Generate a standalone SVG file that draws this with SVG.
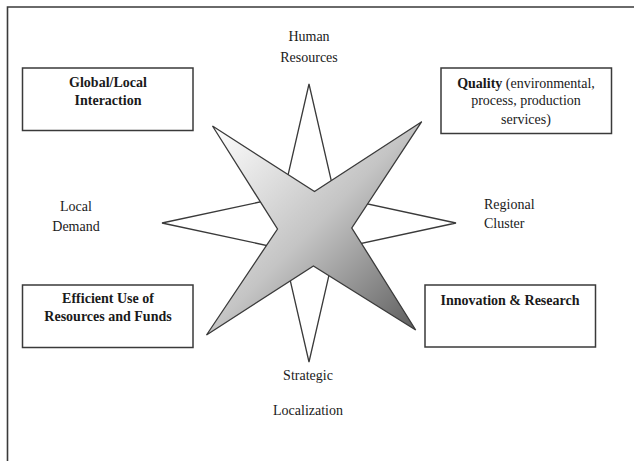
<svg xmlns="http://www.w3.org/2000/svg" width="634" height="461" viewBox="0 0 634 461">
<defs>
<linearGradient id="xg" gradientUnits="userSpaceOnUse" x1="212" y1="126" x2="416" y2="330">
<stop offset="0" stop-color="#ffffff"/>
<stop offset="0.5" stop-color="#c4c4c4"/>
<stop offset="1" stop-color="#5e5e5e"/>
</linearGradient>
<style>
.box{fill:#fff;stroke:#3a3a3a;stroke-width:1.5}
.t{font-family:"Liberation Serif","Times New Roman",serif;font-size:14px;fill:#1a1a1a}
.c{text-anchor:middle}
.b{font-weight:bold}
.star{stroke:#3a3a3a;stroke-width:1.3;stroke-linejoin:miter}
</style>
</defs>
<rect width="634" height="461" fill="#fff"/>
<path d="M7.5 461 V7 H634" fill="none" stroke="#3a3a3a" stroke-width="1.6"/>

<g id="compass">
<polygon class="star" fill="#fff" points="309,84 335,197 456,223 335,249 309,362 283,249 162,223 283,197"/>
<polygon class="star" fill="url(#xg)" points="212.5,126 314.5,191.5 421.7,121.7 351.8,228 415.7,330 313.4,266 206.5,335 277.5,229"/>
</g>

<g id="human-resources">
<text class="t c" x="309" y="40.5">Human</text>
<text class="t c" x="309" y="61.5">Resources</text>
</g>

<g id="global-local">
<rect class="box" x="22.5" y="68" width="170.5" height="62.5"/>
<text class="t c b" x="108" y="87">Global/Local</text>
<text class="t c b" x="108" y="104.5">Interaction</text>
</g>

<g id="quality">
<rect class="box" x="441" y="68" width="170.5" height="65.5"/>
<text class="t c" x="526" y="87.5"><tspan class="b">Quality</tspan> (environmental,</text>
<text class="t c" x="526" y="105">process, production</text>
<text class="t c" x="526" y="123.5">services)</text>
</g>

<g id="local-demand">
<text class="t c" x="76" y="210.5">Local</text>
<text class="t c" x="76" y="231">Demand</text>
</g>

<g id="regional-cluster">
<text class="t" x="484" y="208.5">Regional</text>
<text class="t" x="484" y="228">Cluster</text>
</g>

<g id="efficient-use">
<rect class="box" x="22.5" y="285" width="170.5" height="62.5"/>
<text class="t c b" x="108" y="302.5">Efficient Use of</text>
<text class="t c b" x="108" y="320.5">Resources and Funds</text>
</g>

<g id="innovation">
<rect class="box" x="425" y="285" width="170.5" height="62"/>
<text class="t c b" x="510" y="304.5">Innovation &amp; Research</text>
</g>

<g id="strategic-localization">
<text class="t c" x="308" y="380">Strategic</text>
<text class="t c" x="308" y="415">Localization</text>
</g>

<g id="connectors"></g>
</svg>
